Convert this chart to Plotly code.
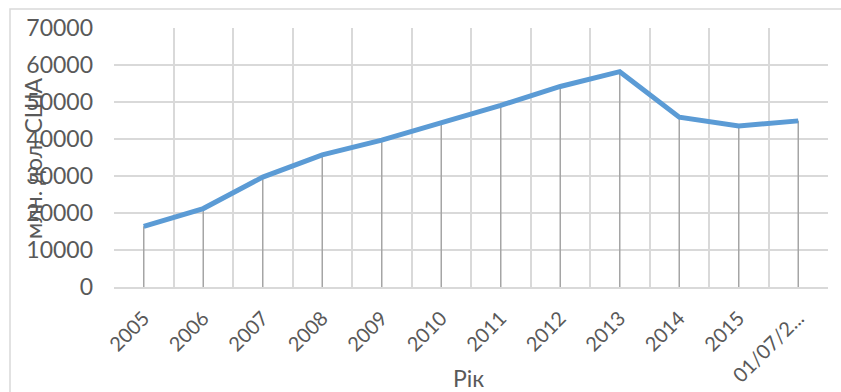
import plotly.graph_objects as go

# Annual values, million USD
years = ["2005", "2006", "2007", "2008", "2009", "2010",
         "2011", "2012", "2013", "2014", "2015", "01/07/2..."]
values = [16400, 21200, 29700, 35700, 39700, 44400,
          49100, 54200, 58200, 45900, 43500, 44900]

y_ticks = [0, 10000, 20000, 30000, 40000, 50000, 60000, 70000]

FONT = "Lato, 'Open Sans', sans-serif"
TEXT = "#595959"
GRID = "#d9d9d9"

# drop lines from each point down to the axis
drop_x, drop_y = [], []
for c, v in zip(years, values):
    drop_x += [c, c, None]
    drop_y += [0, v, None]

fig = go.Figure()
fig.add_trace(go.Scatter(x=drop_x, y=drop_y, mode="lines",
                         line=dict(color="#a5a5a5", width=1.5),
                         hoverinfo="skip", showlegend=False))
fig.add_trace(go.Scatter(x=years, y=values, mode="lines",
                         line=dict(color="#5b9bd5", width=5),
                         showlegend=False))

fig.update_layout(
    width=841, height=392,
    margin=dict(l=114, r=13, t=28, b=105),
    paper_bgcolor="white", plot_bgcolor="white",
    font=dict(family=FONT, color=TEXT, size=20),
    xaxis=dict(type="category", categoryorder="array", categoryarray=years,
               tickson="boundaries", showgrid=True, gridcolor=GRID, gridwidth=1.5,
               showline=True, linecolor=GRID, linewidth=1.5,
               ticks="outside", ticklen=0, tickangle=-45, automargin=False,
               tickfont=dict(size=20, color=TEXT), ticklabelstandoff=10,
               range=[-0.5, len(years) - 0.5], zeroline=False),
    yaxis=dict(range=[0, 70000], tickvals=y_ticks, automargin=False,
               ticktext=[str(t) for t in y_ticks],
               showgrid=True, gridcolor=GRID, gridwidth=1.5,
               zeroline=False, showline=False,
               tickfont=dict(size=23, color=TEXT), ticklabelstandoff=20),
    annotations=[
        dict(text="Рік", xref="paper", yref="paper", x=0.496, y=-0.35,
             showarrow=False, font=dict(size=23, color=TEXT),
             xanchor="center", yanchor="middle"),
        dict(text="млн. дол. США", xref="paper", yref="paper",
             x=(33 - 114) / 714, y=(287 - 158) / 259, textangle=-90,
             showarrow=False, font=dict(size=23, color=TEXT),
             xanchor="center", yanchor="middle"),
    ],
    shapes=[
        dict(type="rect", xref="paper", yref="paper",
             x0=(10 - 114) / 714, x1=(860 - 114) / 714,
             y0=(287 - 420) / 259, y1=(287 - 9) / 259,
             line=dict(color=GRID, width=1.5), layer="below"),
    ],
)

fig.write_html("out.html")
